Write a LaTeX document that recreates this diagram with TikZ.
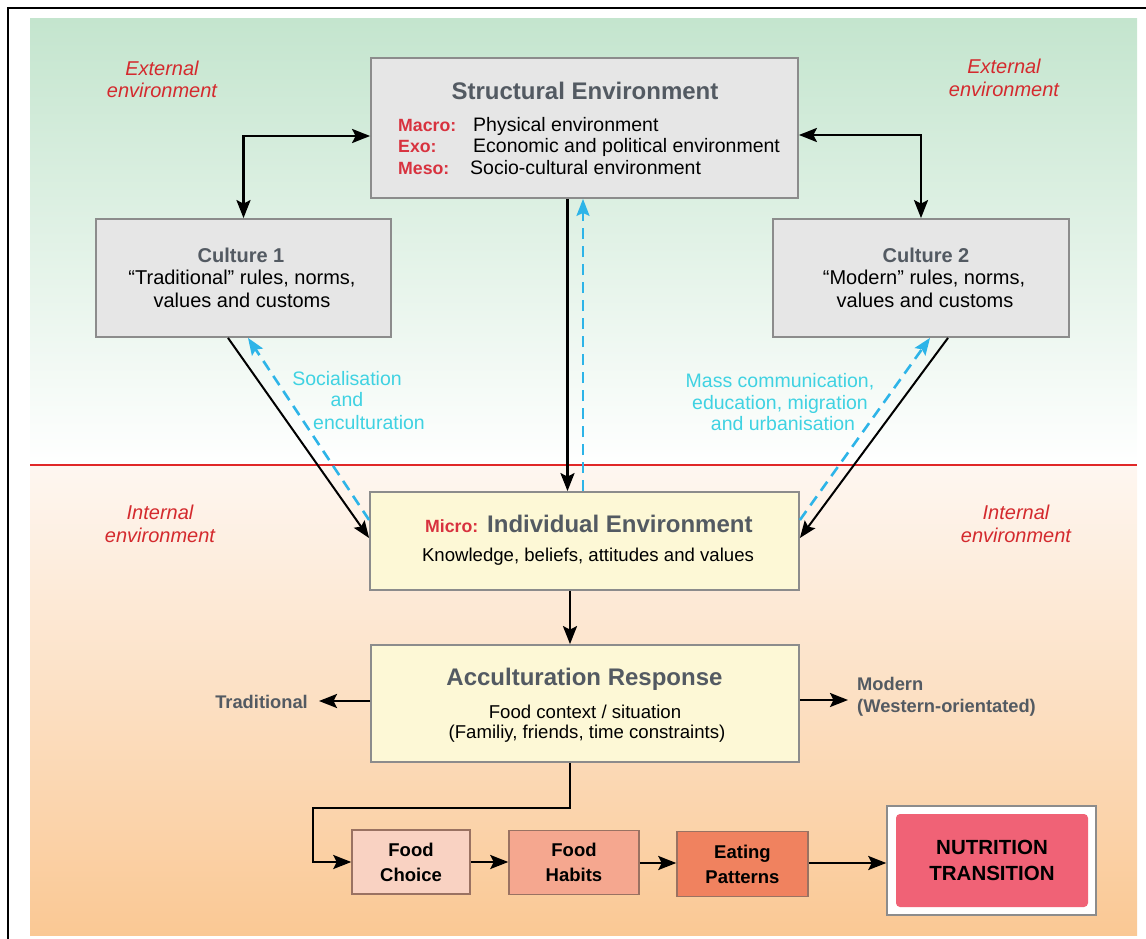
\documentclass[tikz,border=0pt]{standalone}
\usepackage{fontspec}
\setmainfont{Liberation Sans}
\usetikzlibrary{arrows.meta}
\definecolor{titlegray}{HTML}{535A62}
\definecolor{lblred}{HTML}{D8323F}
\definecolor{envred}{HTML}{D42A2E}
\definecolor{boxfill}{HTML}{E6E6E6}
\definecolor{boxline}{HTML}{8C8C8C}
\definecolor{yelfill}{HTML}{FDF8D6}
\definecolor{choicefill}{HTML}{F9D2C2}
\definecolor{habitfill}{HTML}{F5A78F}
\definecolor{patfill}{HTML}{F0825F}
\definecolor{foodline}{HTML}{9A7262}
\definecolor{nutfill}{HTML}{F06276}
\definecolor{cyantext}{HTML}{3FD2E2}
\definecolor{cyanarrow}{HTML}{2DB4E8}
\definecolor{greentop}{RGB}{196,229,206}
\definecolor{peachtop}{RGB}{254,247,241}
\definecolor{peachbot}{RGB}{250,200,148}
\definecolor{sepred}{HTML}{E02828}
\begin{document}
\begin{tikzpicture}[x=1pt,y=-1pt,
  box/.style={draw=boxline, line width=1.8pt, inner sep=0pt},
  gbox/.style={box, fill=boxfill},
  ybox/.style={box, fill=yelfill},
  foodbox/.style={draw=foodline, line width=1.5pt, inner sep=0pt, align=center,
     font=\bfseries\fontsize{18.5}{25}\selectfont},
  arr/.style={line width=2.5pt, -{Stealth[length=18pt,width=14pt,inset=3.5pt]}},
  darr/.style={line width=2.5pt, {Stealth[length=18pt,width=14pt,inset=3.5pt]}-{Stealth[length=18pt,width=14pt,inset=3.5pt]}},
  diagarr/.style={line width=2pt, -{Stealth[length=17pt,width=13pt,inset=3pt]}},
  cyanarr/.style={draw=cyanarrow, line width=2.6pt, dash pattern=on 11pt off 7pt,
     -{Stealth[length=17pt,width=13pt,inset=3pt]}},
  ttl/.style={inner sep=0pt, anchor=base, font=\bfseries\fontsize{24}{27}\selectfont, text=titlegray},
  subttl/.style={inner sep=0pt, anchor=base, font=\bfseries\fontsize{20}{23}\selectfont, text=titlegray},
  body/.style={inner sep=0pt, anchor=base, font=\fontsize{19.5}{22}\selectfont},
  lvl/.style={inner sep=0pt, anchor=base west, font=\bfseries\fontsize{17.7}{21}\selectfont, text=lblred},
  envtxt/.style={inner sep=0pt, anchor=base, font=\itshape\fontsize{20}{22}\selectfont, text=envred},
  cyanlbl/.style={inner sep=0pt, anchor=base, font=\fontsize{19.5}{22}\selectfont, text=cyantext},
  sidelbl/.style={inner sep=0pt, font=\bfseries\fontsize{18.3}{22}\selectfont, text=titlegray}
]
\useasboundingbox (0,0) rectangle (1146,939);
% backgrounds
\fill[top color=greentop, bottom color=white] (30,19) rectangle (1137,465);
\fill[top color=peachtop, bottom color=peachbot] (30,465) rectangle (1137,935);
\draw[sepred, line width=2pt] (30,465) -- (1137,465);
\draw[line width=2pt] (8,8) rectangle (1170,960);

% environment labels
\node[envtxt] (ext1a) at (162,76) {External};
\node[envtxt] (ext1b) at (162,98) {environment};
\node[envtxt] (ext2a) at (1004,74) {External};
\node[envtxt] (ext2b) at (1004,97) {environment};
\node[envtxt] (int1a) at (160,519) {Internal};
\node[envtxt] (int1b) at (160,542) {environment};
\node[envtxt] (int2a) at (1016,519) {Internal};
\node[envtxt] (int2b) at (1016,542) {environment};

% boxes
\node[gbox, minimum width=427pt, minimum height=140pt] (struct) at (584.5,128) {};
\node[gbox, minimum width=295pt, minimum height=118pt] (cult1) at (243.5,278) {};
\node[gbox, minimum width=296pt, minimum height=118pt] (cult2) at (921,278) {};
\node[ybox, minimum width=429pt, minimum height=98pt] (indiv) at (584.5,541) {};
\node[ybox, minimum width=428pt, minimum height=117pt] (accult) at (585,703.5) {};

% structural text
\node[ttl] (structT) at (585,100) {Structural Environment};
\node[lvl] (macro) at (398,132) {Macro:};
\node[body, anchor=base west] (macroT) at (473,132) {Physical environment};
\node[lvl] (exo) at (398,153) {Exo:};
\node[body, anchor=base west] (exoT) at (473,153) {Economic and political environment};
\node[lvl] (meso) at (398,175) {Meso:};
\node[body, anchor=base west] (mesoT) at (470,175) {Socio-cultural environment};

% culture texts
\node[subttl] (c1T) at (241,262) {Culture 1};
\node[body, font=\fontsize{20}{22}\selectfont] (c1a) at (242,284) {“Traditional” rules, norms,};
\node[body, font=\fontsize{20}{22}\selectfont] (c1b) at (242,307) {values and customs};
\node[subttl] (c2T) at (926,262) {Culture 2};
\node[body, font=\fontsize{20}{22}\selectfont] (c2a) at (924,284) {“Modern” rules, norms,};
\node[body, font=\fontsize{20}{22}\selectfont] (c2b) at (925,307) {values and customs};

% individual
\node[lvl] (micro) at (425,532) {Micro:};
\node[ttl, anchor=base west] (indivT) at (487,532) {Individual Environment};
\node[body, font=\fontsize{18.6}{22}\selectfont] (indivB) at (588,561) {Knowledge, beliefs, attitudes and values};

% acculturation
\node[ttl] (accT) at (584.5,685) {Acculturation Response};
\node[body, font=\fontsize{18.6}{22}\selectfont] (accB1) at (585,718) {Food context / situation};
\node[body, font=\fontsize{18.6}{22}\selectfont] (accB2) at (587,738) {(Familiy, friends, time constraints)};

% side labels
\node[sidelbl, anchor=base east] (trad) at (308,708) {Traditional};
\node[sidelbl, anchor=base west] (mod1) at (857,690) {Modern};
\node[sidelbl, anchor=base west] (mod2) at (857,712) {(Western-orientated)};
\coordinate (tradtip) at (319,701);
\coordinate (modtip) at (848,700);

% cyan labels
\node[cyanlbl] (soc1) at (347,385) {Socialisation};
\node[cyanlbl] (soc2) at (347,406) {and};
\node[cyanlbl] (soc3) at (369,429) {enculturation};
\node[cyanlbl] (mass1) at (780,387) {Mass communication,};
\node[cyanlbl] (mass2) at (780,409) {education, migration};
\node[cyanlbl] (mass3) at (783,430) {and urbanisation};

% food chain
\node[foodbox, fill=choicefill, minimum width=118pt, minimum height=64pt] (choice) at (411,862) {Food\\Choice};
\node[foodbox, fill=habitfill, minimum width=130pt, minimum height=64pt] (habits) at (574,862.5) {Food\\Habits};
\node[foodbox, fill=patfill, minimum width=131pt, minimum height=65pt] (pattern) at (742.5,864) {Eating\\Patterns};
\node[draw=boxline, line width=1.5pt, fill=white, minimum width=209pt, minimum height=109pt, inner sep=0pt] (nutout) at (991.5,860.5) {};
\node[fill=nutfill, rounded corners=4pt, minimum width=192pt, minimum height=93pt, inner sep=0pt, align=center,
      font=\bfseries\fontsize{20.5}{26}\selectfont] (nutin) at (992,860.5) {NUTRITION\\TRANSITION};
\coordinate (turn) at (313,808);

% connectors
\draw[darr] ([yshift=-8pt]struct.west) -| (cult1.north);
\draw[darr] ([yshift=-7pt]struct.east) -| (cult2.north);
\draw[arr] ([xshift=-17pt]struct.south) -- ([xshift=-17pt]indiv.north);
\draw[cyanarr] ([xshift=-1.5pt]indiv.north) -- ([xshift=-1.5pt]struct.south);
\draw[diagarr] ([xshift=-15.5pt]cult1.south) -- ([yshift=3pt]indiv.west);
\draw[cyanarr] ([yshift=21pt]indiv.west) -- ([xshift=4.5pt]cult1.south);
\draw[diagarr] ([xshift=27pt]cult2.south) -- ([yshift=3pt]indiv.east);
\draw[cyanarr] ([yshift=21pt]indiv.east) -- ([xshift=9pt]cult2.south);
\draw[arr] ([xshift=-14.5pt]indiv.south) -- ([xshift=-15pt]accult.north);
\draw[arr] ([yshift=2.5pt]accult.west) -- (tradtip);
\draw[arr] ([yshift=3.5pt]accult.east) -- (modtip);
\draw[arr] ([xshift=-15pt]accult.south) |- (turn) |- (choice.west);
\draw[arr] (choice.east) -- (choice.east -| habits.west);
\draw[arr] ([yshift=-0.5pt]habits.east) -- ([yshift=-0.5pt]habits.east -| pattern.west);
\draw[arr] ([yshift=1pt]pattern.east) -- ([yshift=1pt]pattern.east -| nutout.west);
\end{tikzpicture}
\end{document}
